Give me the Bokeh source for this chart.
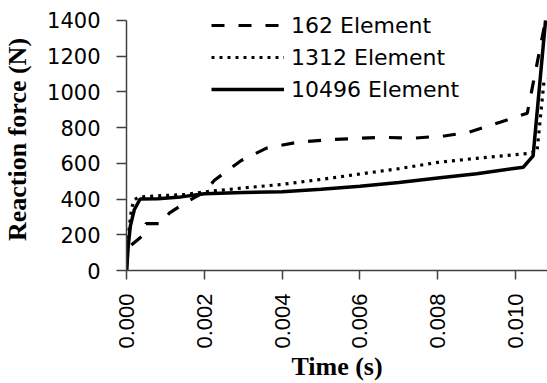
import math
from bokeh.plotting import figure
from bokeh.models import Legend, LegendItem, Range1d, FixedTicker
from bokeh.embed import file_html
from bokeh.resources import INLINE

# Data (time in s, reaction force in N)
t_162 = [0, 0.00004, 0.00043, 0.0005, 0.0009, 0.0011, 0.00145, 0.002, 0.00226, 0.00295,
         0.0036, 0.0044, 0.0052, 0.006, 0.0066, 0.0074, 0.0082, 0.0088, 0.0096, 0.0103, 0.01077]
f_162 = [0, 127, 197, 262, 262, 321, 371, 440, 505, 616,
         685, 718, 732, 740, 745, 741, 754, 774, 830, 880, 1400]

t_1312 = [0, 0.00005, 0.00013, 0.0002, 0.0003, 0.0006, 0.001, 0.0015, 0.002, 0.003, 0.004,
          0.005, 0.006, 0.007, 0.008, 0.009, 0.0103, 0.01055, 0.01073, 0.01082]
f_1312 = [0, 200, 349, 395, 410, 415, 420, 425, 440, 462, 482,
          510, 540, 570, 605, 628, 655, 665, 1059, 1070]

t_10496 = [0, 0.00005, 0.0001, 0.0002, 0.00035, 0.0008, 0.0014, 0.002, 0.003, 0.004, 0.005,
           0.006, 0.007, 0.008, 0.009, 0.0102, 0.01045, 0.01077]
f_10496 = [0, 150, 250, 340, 400, 402, 412, 430, 436, 441, 455,
           472, 492, 518, 542, 578, 642, 1400]

x_ticks = [0.000, 0.002, 0.004, 0.006, 0.008, 0.010]
y_ticks = [0, 200, 400, 600, 800, 1000, 1200, 1400]
series_names = ["162 Element", "1312 Element", "10496 Element"]

# frame extends a little above 1400 so the legend sits inside it; axis line stops at 1400
y_top = 1400 * 265 / 253

p = figure(width=547, height=383, output_backend="svg", toolbar_location=None,
           x_range=Range1d(0, 0.01082), y_range=Range1d(0, y_top),
           min_border_left=125, min_border_right=0, min_border_top=8, min_border_bottom=110)
p.outline_line_color = None
p.xgrid.visible = False
p.ygrid.visible = False
p.background_fill_color = "white"
p.border_fill_color = "white"

r1 = p.line(t_162, f_162, line_color="black", line_width=3.2, line_dash="13 14")
r2 = p.line(t_1312, f_1312, line_color="black", line_width=3.2, line_dash="3 5")
r3 = p.line(t_10496, f_10496, line_color="black", line_width=3.5)

# axes
for ax in (p.xaxis[0], p.yaxis[0]):
    ax.axis_line_color = "#404040"
    ax.axis_line_width = 1.5
    ax.major_tick_line_color = "#404040"
    ax.major_tick_line_width = 1.5
    ax.minor_tick_line_color = None
    ax.major_tick_in = 0
    ax.major_label_text_color = "black"
    ax.axis_label_text_color = "black"
    ax.axis_label_text_font = "Liberation Serif"
    ax.axis_label_text_font_style = "bold"
    ax.axis_label_text_font_size = "26px"

p.xaxis.ticker = FixedTicker(ticks=x_ticks)
p.xaxis.major_label_overrides = {v: f"{v:.3f}" for v in x_ticks}
p.xaxis.major_label_orientation = math.pi / 2
p.xaxis.major_label_text_font = "Liberation Sans"
p.xaxis.major_label_text_font_size = "22px"
p.xaxis.major_tick_out = 9
p.xaxis.major_label_standoff = 14
p.xaxis.axis_label = "Time (s)"
p.xaxis.axis_label_standoff = 0

p.yaxis.ticker = FixedTicker(ticks=y_ticks)
p.yaxis.bounds = (0, 1400)
p.yaxis.major_label_text_font = "DejaVu Sans"
p.yaxis.major_label_text_font_size = "21px"
p.yaxis.major_tick_out = 10
p.yaxis.major_label_standoff = 16
p.yaxis.axis_label = "Reaction force (N)"
p.yaxis.axis_label_standoff = 12

legend = Legend(items=[LegendItem(label=series_names[0], renderers=[r1]),
                       LegendItem(label=series_names[1], renderers=[r2]),
                       LegendItem(label=series_names[2], renderers=[r3])],
                location=(85, 165), orientation="vertical",
                glyph_width=73, glyph_height=32, label_height=32, spacing=0,
                label_standoff=7, padding=0, margin=0,
                label_text_font="DejaVu Sans", label_text_font_size="22px",
                label_text_color="black",
                background_fill_alpha=0, border_line_color=None)
p.add_layout(legend)

open("out.html", "w").write(file_html(p, INLINE))
